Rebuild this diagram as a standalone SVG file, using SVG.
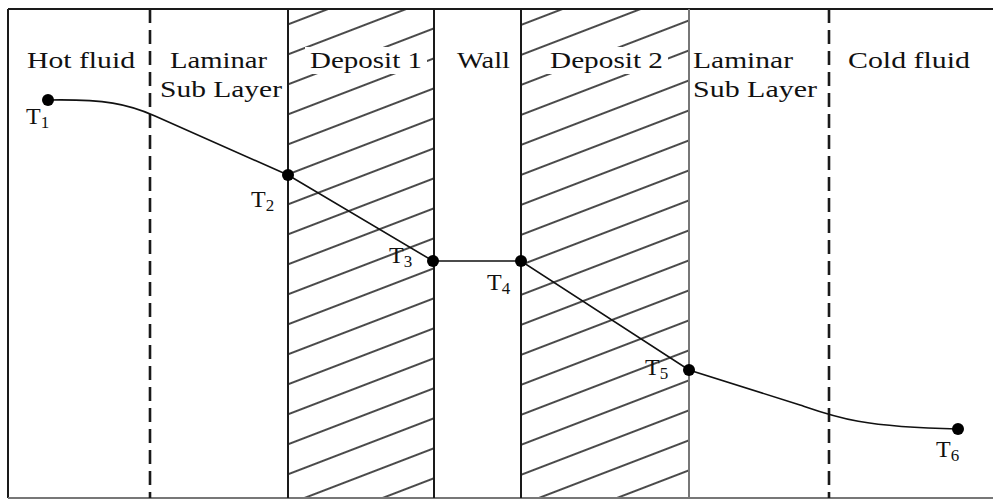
<svg xmlns="http://www.w3.org/2000/svg" width="994" height="500" viewBox="0 0 994 500">
<style>
.lbl{font-family:"Liberation Serif","Times New Roman",serif;font-size:23px;fill:#111}
.tl{font-family:"Liberation Serif","Times New Roman",serif;font-size:24px;fill:#111}
.sub{font-size:17px}
.solid{stroke:#1a1a1a;stroke-width:2;fill:none}
.dash{stroke:#1a1a1a;stroke-width:2.6;stroke-dasharray:14 7;fill:none}
.dot{fill:#000}
.curve{stroke:#111;stroke-width:1.6;fill:none}
</style>
<defs>
<pattern id="hatch" patternUnits="userSpaceOnUse" width="20" height="28" patternTransform="rotate(-21)">
<line x1="0" y1="14" x2="20" y2="14" stroke="#1e1e1e" stroke-width="1.6"/>
</pattern>
</defs>
<rect width="994" height="500" fill="#fff"/>
<g id="deposit1"><rect x="288" y="9" width="146" height="489" fill="url(#hatch)"/></g>
<g id="deposit2"><rect x="521" y="9" width="168" height="489" fill="url(#hatch)"/></g>
<g id="frame">
<line class="solid" x1="8" y1="9" x2="993" y2="9"/>
<line class="solid" x1="8" y1="9" x2="8" y2="498"/>
<line x1="8" y1="498" x2="993" y2="498" stroke="#777" stroke-width="2"/>
<line class="dash" x1="150" y1="9" x2="150" y2="498"/>
<line class="solid" x1="288" y1="9" x2="288" y2="498"/>
<line class="solid" x1="434" y1="9" x2="434" y2="498"/>
<line class="solid" x1="521" y1="9" x2="521" y2="498"/>
<line x1="689" y1="9" x2="689" y2="498" stroke="#777" stroke-width="2"/>
<line class="dash" x1="829" y1="9" x2="829" y2="498"/>
</g>
<g id="labels">
<text class="lbl" x="27" y="68" textLength="108" lengthAdjust="spacingAndGlyphs">Hot fluid</text>
<text class="lbl" x="170" y="68" textLength="97" lengthAdjust="spacingAndGlyphs">Laminar</text>
<text class="lbl" x="160" y="97" textLength="122" lengthAdjust="spacingAndGlyphs">Sub Layer</text>
<rect x="305" y="47" width="122" height="27" fill="#fff"/>
<text class="lbl" x="310" y="68" textLength="112" lengthAdjust="spacingAndGlyphs">Deposit 1</text>
<text class="lbl" x="457" y="68" textLength="53" lengthAdjust="spacingAndGlyphs">Wall</text>
<rect x="546" y="47" width="122" height="27" fill="#fff"/>
<text class="lbl" x="550" y="68" textLength="113" lengthAdjust="spacingAndGlyphs">Deposit 2</text>
<text class="lbl" x="693" y="68" textLength="100" lengthAdjust="spacingAndGlyphs">Laminar</text>
<text class="lbl" x="693" y="97" textLength="124" lengthAdjust="spacingAndGlyphs">Sub Layer</text>
<text class="lbl" x="848" y="68" textLength="122" lengthAdjust="spacingAndGlyphs">Cold fluid</text>
</g>
<g id="connectors">
<path class="curve" d="M48,100 C105,99 128,104 155,116 L288,175 L433,261 L521,261 L689,370 L800,405 C835,417 860,427 958,429"/>
</g>
<g id="T1"><circle class="dot" cx="48" cy="100" r="6"/><text class="tl" x="26" y="124">T<tspan class="sub" dy="4">1</tspan></text></g>
<g id="T2"><circle class="dot" cx="288" cy="175" r="6"/><text class="tl" x="251" y="207">T<tspan class="sub" dy="4">2</tspan></text></g>
<g id="T3"><circle class="dot" cx="433" cy="261" r="6"/><text class="tl" x="389" y="263">T<tspan class="sub" dy="4">3</tspan></text></g>
<g id="T4"><circle class="dot" cx="521" cy="261" r="6"/><text class="tl" x="487" y="290">T<tspan class="sub" dy="4">4</tspan></text></g>
<g id="T5"><circle class="dot" cx="689" cy="370" r="6"/><text class="tl" x="645" y="375">T<tspan class="sub" dy="4">5</tspan></text></g>
<g id="T6"><circle class="dot" cx="958" cy="429" r="6"/><text class="tl" x="936" y="457">T<tspan class="sub" dy="4">6</tspan></text></g>
</svg>
